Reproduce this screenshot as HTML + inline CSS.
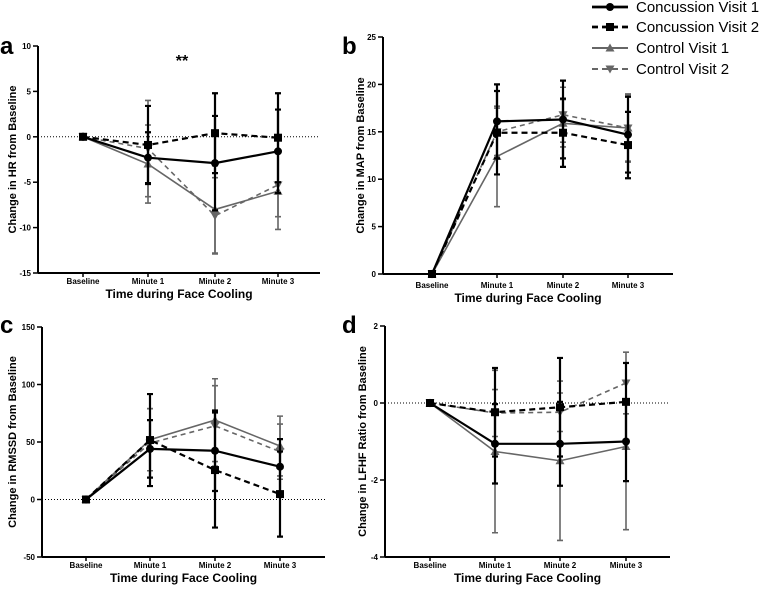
<!DOCTYPE html>
<html><head><meta charset="utf-8"><style>
body{margin:0;background:#fff;}
svg{display:block;font-family:"Liberation Sans",Arial,sans-serif;}
</style></head><body>
<svg id="chart" width="760" height="589" viewBox="0 0 760 589"></svg>
<script>
const categories=["Baseline","Minute 1","Minute 2","Minute 3"];
// Panel a: HR
const hrTicks=[10,5,0,-5,-10,-15];
const hrCV1=[0,-2.3,-2.9,-1.6], hrCV1Err=[0,2.8,5.2,4.6];
const hrCV2=[0,-0.9,0.4,-0.1], hrCV2Err=[0,4.3,4.4,4.9];
const hrCtV1=[0,-3.0,-8.0,-6.0], hrCtV1Err=[0,4.3,4.8,4.2];
const hrCtV2=[0,-1.3,-8.7,-5.3], hrCtV2Err=[0,5.3,4.2,3.5];
// Panel b: MAP
const mapTicks=[25,20,15,10,5,0];
const mapCV1=[0,16.1,16.3,14.7], mapCV1Err=[0,3.9,4.1,4.0];
const mapCV2=[0,14.9,14.9,13.6], mapCV2Err=[0,4.4,3.6,3.5];
const mapCtV1=[0,12.4,15.9,15.4], mapCtV1Err=[0,5.3,2.5,3.5];
const mapCtV2=[0,15.0,16.8,15.4], mapCtV2Err=[0,2.5,2.9,3.6];
// Panel c: RMSSD
const rmTicks=[150,100,50,0,-50];
const rmCV1=[0,44,42.4,28.5], rmCV1Err=[0,25,35,24];
const rmCV2=[0,51.7,25.6,4.7], rmCV2Err=[0,40,50,37];
const rmCtV1=[0,52,69,46.5], rmCtV1Err=[0,27,36,26];
const rmCtV2=[0,49,64,41.6], rmCtV2Err=[0,30,35,24];
// Panel d: LF/HF
const lfTicks=[2,0,-2,-4];
const lfCV1=[0,-1.06,-1.06,-1.0], lfCV1Err=[0,1.03,1.09,1.03];
const lfCV2=[0,-0.24,-0.11,0.03], lfCV2Err=[0,1.15,1.28,1.01];
const lfCtV1=[0,-1.26,-1.5,-1.13], lfCtV1Err=[0,2.11,2.07,2.16];
const lfCtV2=[0,-0.26,-0.24,0.52], lfCtV2Err=[0,0.61,0.5,0.8];

const svg=document.getElementById('chart');
const NS="http://www.w3.org/2000/svg";
function mk(tag,attrs,parent){const e=document.createElementNS(NS,tag);for(const k in attrs)e.setAttribute(k,attrs[k]);(parent||svg).appendChild(e);return e;}
const GRAY="#666";
const styles=[
 {c:"#000",w:2.2,dash:"",m:"circle",name:"concussion-visit-1"},
 {c:"#000",w:2.2,dash:"6,4",m:"square",name:"concussion-visit-2"},
 {c:GRAY,w:1.6,dash:"",m:"tri",name:"control-visit-1"},
 {c:GRAY,w:1.6,dash:"5,4",m:"tridown",name:"control-visit-2"}
];
function marker(g,type,x,y,c){
 let e;
 if(type==="circle")e=mk('circle',{cx:x,cy:y,r:4,fill:c},g);
 else if(type==="square")e=mk('rect',{x:x-4,y:y-4,width:8,height:8,fill:c},g);
 else if(type==="tri")e=mk('polygon',{points:`${x},${y-4.5} ${x-4.5},${y+3.5} ${x+4.5},${y+3.5}`,fill:c},g);
 else e=mk('polygon',{points:`${x},${y+4.5} ${x-4.5},${y-3.5} ${x+4.5},${y-3.5}`,fill:c},g);
 return e;
}
function panel(p){
 const g=mk('g',{});
 
 
 const ymin=p.ticks[p.ticks.length-1], ymax=p.ticks[0];
 const yS=v=>p.yBot-(v-ymin)/(ymax-ymin)*(p.yBot-p.yTop);
 const xS=i=>p.xs[i];
 const ya=mk('line',{x1:p.ax,y1:p.yTop,x2:p.ax,y2:p.yBot,stroke:"#000","stroke-width":2},g);
 
 
 const xa=mk('line',{x1:p.ax,y1:p.yBot,x2:p.axEnd,y2:p.yBot,stroke:"#000","stroke-width":2},g);
 
 
 p.ticks.forEach(t=>{
  const y=yS(t);
  mk('line',{x1:p.ax-5,y1:y,x2:p.ax,y2:y,stroke:"#000","stroke-width":1.5},g);
  const tl=mk('text',{x:p.ax-7,y:y+3,"text-anchor":"end","font-size":8,"font-weight":"bold"},g);
  tl.textContent=t;
  
  
 });
 categories.forEach((c,i)=>{
  const x=xS(i);
  mk('line',{x1:x,y1:p.yBot,x2:x,y2:p.yBot+4,stroke:"#000","stroke-width":1.5},g);
  const tl=mk('text',{x:x,y:p.tickY,"text-anchor":"middle","font-size":8,"font-weight":"bold"},g);
  tl.textContent=c;
  
  
 });
 if(p.zero){const z=mk('line',{x1:p.ax,y1:yS(0),x2:p.axEnd,y2:yS(0),stroke:"#000","stroke-width":1,"stroke-dasharray":"1,2"},g);
  
  }
 const xt=mk('text',{x:(p.ax+p.axEnd)/2,y:p.titleY,"text-anchor":"middle","font-size":12,"font-weight":"bold"},g);
 xt.textContent="Time during Face Cooling";
 
 
 const yc=(p.yTop+p.yBot)/2;
 const yt=mk('text',{x:p.ytX,y:yc,"text-anchor":"middle","font-size":11,"font-weight":"bold",transform:`rotate(-90 ${p.ytX} ${yc})`},g);
 yt.textContent=p.ytitle;
 
 
 const lt=mk('text',{x:p.lx,y:p.ly,"font-size":24,"font-weight":"bold"},g);
 lt.textContent=p.letter;
 
 
 [3,2,1,0].forEach(si=>{
  const s=styles[si], vals=p.series[si], errs=p.errs[si];
  const sg=mk('g',{},g);
  
  
  vals.forEach((v,i)=>{
   if(!errs[i])return;
   const x=xS(i),y1=yS(v+errs[i]),y2=yS(v-errs[i]);
   const eb=mk('path',{d:`M${x},${y1}V${y2}M${x-3},${y1}H${x+3}M${x-3},${y2}H${x+3}`,stroke:s.c,"stroke-width":s.w,fill:"none"},sg);
   
   
  });
  const d=vals.map((v,i)=>(i?"L":"M")+xS(i)+","+yS(v)).join("");
  const ln=mk('path',{d:d,stroke:s.c,"stroke-width":s.w,fill:"none","stroke-dasharray":s.dash},sg);
  
  
  vals.forEach((v,i)=>{
   const m=marker(sg,s.m,xS(i),yS(v),s.c);
   
   
  });
 });
}
panel({name:"panel-a-hr",letter:"a",lx:0,ly:54,ticks:hrTicks,yTop:46,yBot:273,ax:38,axEnd:320,xs:[83,148,215,278],tickY:284,titleY:298,ytX:16,ytitle:"Change in HR from Baseline",zero:true,
 series:[hrCV1,hrCV2,hrCtV1,hrCtV2],errs:[hrCV1Err,hrCV2Err,hrCtV1Err,hrCtV2Err]});
panel({name:"panel-b-map",letter:"b",lx:342,ly:54,ticks:mapTicks,yTop:37,yBot:274,ax:383,axEnd:673,xs:[432,497,563,628],tickY:288,titleY:302,ytX:364,ytitle:"Change in MAP from Baseline",zero:false,
 series:[mapCV1,mapCV2,mapCtV1,mapCtV2],errs:[mapCV1Err,mapCV2Err,mapCtV1Err,mapCtV2Err]});
panel({name:"panel-c-rmssd",letter:"c",lx:0,ly:333,ticks:rmTicks,yTop:327,yBot:557,ax:42,axEnd:325,xs:[86,150,215,280],tickY:568,titleY:582,ytX:16,ytitle:"Change in RMSSD from Baseline",zero:true,
 series:[rmCV1,rmCV2,rmCtV1,rmCtV2],errs:[rmCV1Err,rmCV2Err,rmCtV1Err,rmCtV2Err]});
panel({name:"panel-d-lfhf",letter:"d",lx:342,ly:333,ticks:lfTicks,yTop:326,yBot:557,ax:385,axEnd:670,xs:[430,495,560,626],tickY:568,titleY:582,ytX:366,ytitle:"Change in LFHF Ratio from Baseline",zero:true,
 series:[lfCV1,lfCV2,lfCtV1,lfCtV2],errs:[lfCV1Err,lfCV2Err,lfCtV1Err,lfCtV2Err]});
const sig=mk('text',{x:182,y:66,"text-anchor":"middle","font-size":16,"font-weight":"bold"});
sig.textContent="**";


const legendLabels=["Concussion Visit 1","Concussion Visit 2","Control Visit 1","Control Visit 2"];
const legendYs=[7,27,48,69];
const lg=mk('g',{});


legendLabels.forEach((lab,i)=>{
 const s=styles[i],y=legendYs[i];
 const e=mk('g',{},lg);
 
 
 mk('line',{x1:592,y1:y,x2:628,y2:y,stroke:s.c,"stroke-width":s.w+0.5,"stroke-dasharray":s.dash?"6,4":""},e);
 marker(e,s.m,610,y,s.c);
 const t=mk('text',{x:636,y:y+5,"font-size":15},e);
 t.textContent=lab;
});
</script>
</body></html>
